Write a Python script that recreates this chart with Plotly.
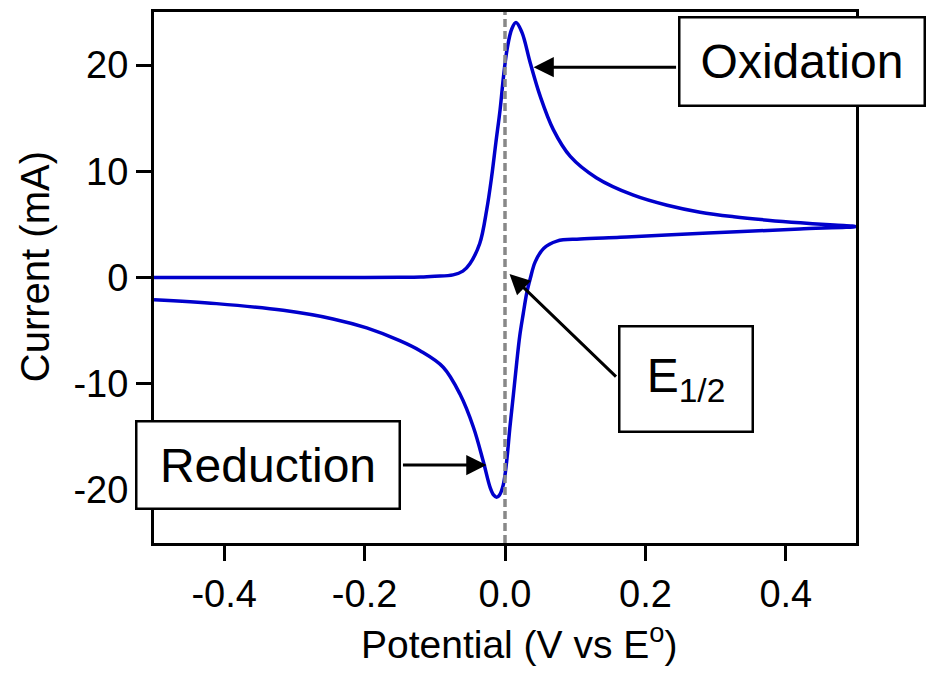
import plotly.graph_objects as go

# Forward (oxidative) scan: -0.5 V -> +0.5 V
potential_forward = [-0.50, -0.40, -0.30, -0.20, -0.15, -0.12, -0.10, -0.074, -0.06, -0.05,
                     -0.036, -0.026, -0.019, -0.013, -0.007, -0.002, 0.003, 0.0096, 0.0157,
                     0.024, 0.036, 0.050, 0.069, 0.093, 0.13, 0.183, 0.231, 0.278, 0.326,
                     0.374, 0.421, 0.469, 0.50]
current_forward = [0.0, 0.0, 0.0, 0.0, 0.02, 0.05, 0.12, 0.25, 0.6, 1.3,
                   3.2, 6.4, 9.5, 12.7, 15.8, 19.0, 21.5, 23.4, 24.0,
                   23.1, 20.2, 17.1, 13.9, 11.4, 9.4, 7.75, 6.8, 6.15, 5.72,
                   5.4, 5.15, 4.94, 4.8]

# Reverse (reductive) scan: +0.5 V -> -0.5 V
potential_reverse = [0.50, 0.42, 0.33, 0.23, 0.164, 0.107, 0.074, 0.055, 0.043, 0.036,
                     0.031, 0.026, 0.021, 0.0167, 0.012, 0.007, 0.0024, -0.0024, -0.008,
                     -0.012, -0.016, -0.021, -0.031, -0.045, -0.064, -0.088, -0.121,
                     -0.150, -0.197, -0.245, -0.316, -0.411, -0.50]
current_reverse = [4.8, 4.57, 4.3, 4.0, 3.78, 3.62, 3.43, 2.74, 1.47, -0.1,
                   -1.45, -3.4, -5.5, -8.0, -11.0, -14.1, -17.3, -19.5, -20.5,
                   -20.7, -20.5, -19.8, -17.3, -14.1, -11.0, -8.45, -6.9,
                   -5.95, -4.75, -3.9, -3.09, -2.46, -2.1]

x_tickvals = [-0.4, -0.2, 0.0, 0.2, 0.4]
x_ticktext = ["-0.4", "-0.2", "0.0", "0.2", "0.4"]
y_tickvals = [-20, -10, 0, 10, 20]
y_ticktext = ["-20", "-10", "0", "10", "20"]

e_half = [0.0, 0.0]
e_half_span = [-25, 25]

FONT = "Liberation Sans, Arial, sans-serif"
BLUE = "#0000cc"

fig = go.Figure()
fig.add_trace(go.Scatter(
    x=potential_forward + potential_reverse[1:],
    y=current_forward + current_reverse[1:],
    mode="lines", line=dict(color=BLUE, width=3.5, shape="spline", smoothing=1.0),
    showlegend=False, hoverinfo="skip"))
fig.add_trace(go.Scatter(
    x=e_half, y=e_half_span, mode="lines",
    line=dict(color="#888888", width=3.5, dash="8px,4px"),
    showlegend=False, hoverinfo="skip"))

axis_common = dict(showline=True, linewidth=3, linecolor="black", mirror=True,
                   ticks="outside", ticklen=15, tickwidth=3, tickcolor="black",
                   showgrid=False, zeroline=False,
                   tickfont=dict(family=FONT, size=38, color="black"))

fig.update_layout(
    width=918, height=664,
    margin=dict(l=146, r=70, t=4, b=129, autoexpand=False),
    paper_bgcolor="white", plot_bgcolor="white",
    font=dict(family=FONT, color="black"),
    xaxis=dict(range=[-0.5, 0.5], tickvals=x_tickvals, ticktext=x_ticktext, **axis_common),
    yaxis=dict(range=[-25, 25], tickvals=y_tickvals, ticktext=y_ticktext, **axis_common),
)

# axis titles
fig.add_annotation(x=0.52, y=-0.236, xref="paper", yref="paper", showarrow=False,
                   xanchor="center", yanchor="bottom",
                   text="Potential (V vs E<sup>o</sup>)",
                   font=dict(family=FONT, size=39, color="black"))
fig.add_annotation(x=-0.170, y=0.5207, xref="paper", yref="paper", showarrow=False,
                   xanchor="center", yanchor="middle", textangle=-90,
                   text="Current (mA)",
                   font=dict(family=FONT, size=40, color="black"))

arrow = dict(showarrow=True, arrowhead=2, arrowsize=1.35, arrowwidth=3,
             arrowcolor="black", standoff=0, startstandoff=0, text="",
             xref="x", yref="y")
fig.add_annotation(x=0.0407, y=19.8, ax=144, ay=0, **arrow)
fig.add_annotation(x=-0.0264, y=-17.66, ax=-85, ay=0, **arrow)
fig.add_annotation(x=0.0064, y=0.33, ax=108, ay=104, **arrow)

box = dict(xref="paper", yref="paper", showarrow=False, bgcolor="white",
           bordercolor="black", borderwidth=2.5, borderpad=0,
           xanchor="center", yanchor="middle",
           font=dict(family=FONT, size=48, color="black"))
fig.add_annotation(x=0.9234, y=0.9068, text="Oxidation", width=243, height=86, **box)
fig.add_annotation(x=0.1626, y=0.1469, text="Reduction", width=261, height=85, **box)
fig.add_annotation(x=0.7575, y=0.3089, text="E<sub>1/2</sub>", width=131, height=103, **box)

fig.write_html("out.html")
